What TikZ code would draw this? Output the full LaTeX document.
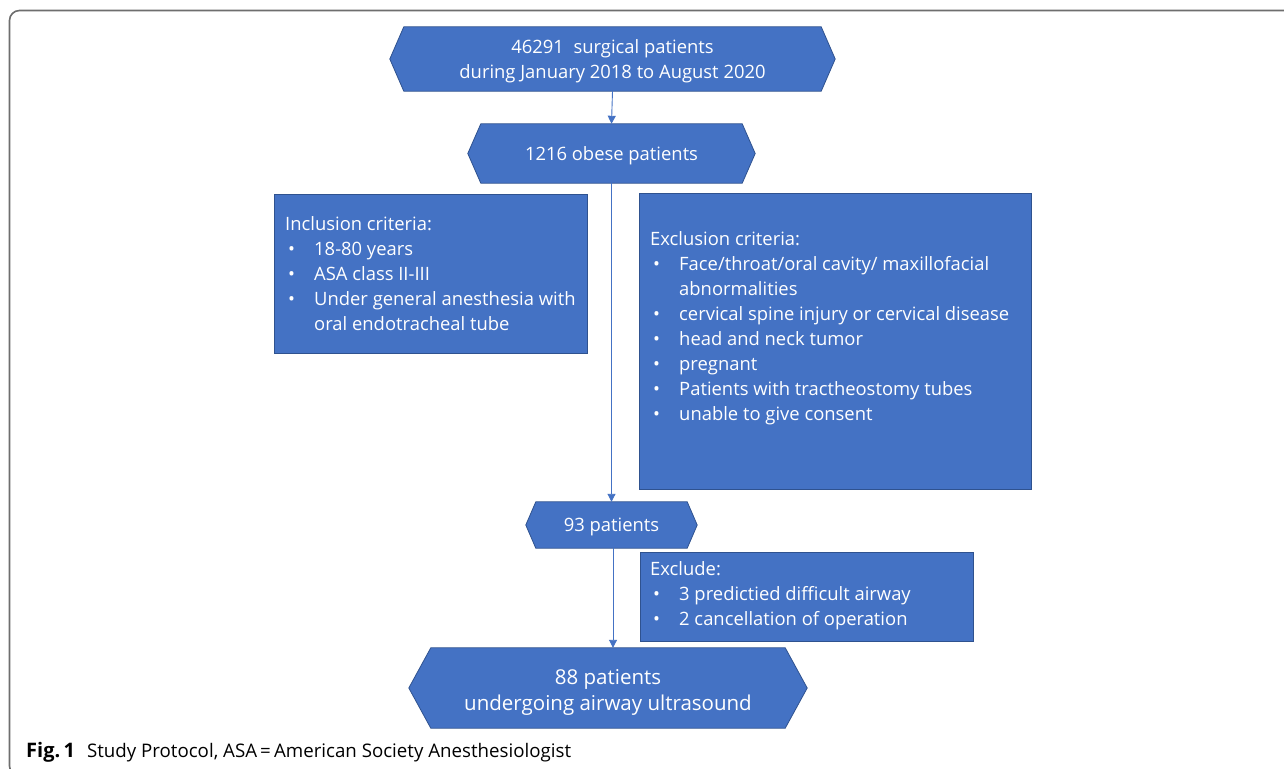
\documentclass[tikz,border=0pt]{standalone}
\usepackage{fontspec}
\setmainfont{Open Sans}
\newfontfamily\capfont{Open Sans}
\usetikzlibrary{arrows.meta,backgrounds}
\definecolor{boxblue}{HTML}{4472C4}
\definecolor{boxedge}{HTML}{2F528F}
\definecolor{framegray}{HTML}{6E6E6E}
\tikzset{
 hexnode/.style={inner sep=0pt, text=white, align=center, font=\fontsize{18.4}{25}\selectfont},
 critbox/.style={draw=boxedge, fill=boxblue, line width=0.8pt, inner sep=0pt, anchor=north west},
 crittext/.style={inner sep=0pt, anchor=north west, text=white, align=left, font=\fontsize{18.4}{25}\selectfont},
 flowarrow/.style={draw=boxblue, line width=0.9pt, -{Triangle[length=8pt,width=8pt]}},
 hexfill/.style={fill=boxblue, draw=boxedge, line width=0.8pt},
}
\newcommand{\hexpath}[2]{(#1.west) -- ([xshift=#2]#1.north west) -- ([xshift=-#2]#1.north east) -- (#1.east) -- ([xshift=-#2]#1.south east) -- ([xshift=#2]#1.south west) -- cycle}
\newcommand{\bul}{\makebox[29pt][l]{\hspace{3pt}•}}
\newcommand{\cont}{\hspace*{29pt}}
\begin{document}
\begin{tikzpicture}[x=1pt,y=-1pt]
\useasboundingbox (0,0) rectangle (1284,768);
\begin{scope}[on background layer]
\fill[white] (0,0) rectangle (1284,768);
\end{scope}
\draw[framegray, line width=1.6pt, rounded corners=10pt] (1295,10.5) -- (9.5,10.5) -- (9.5,776) -- (40,776);

% hexagon nodes (drawn shape fixed by the node; text shifted to match)
\node[hexnode, minimum width=445pt, minimum height=64pt] (n1) at (612.5,59) {};
\node[hexnode] (n1text) at (612.5,61) {46291\ \ surgical patients\\during January 2018 to August 2020};
\node[hexnode, minimum width=287pt, minimum height=59pt] (n2) at (611.5,153.5) {};
\node[hexnode] (n2text) at (611.5,155.5) {1216 obese patients};
\node[hexnode, minimum width=171pt, minimum height=46pt] (n3) at (611.5,525) {};
\node[hexnode] (n3text) at (611.5,527) {93 patients};
\node[hexnode, minimum width=398pt, minimum height=80pt] (n4) at (608,688) {};
\node[hexnode, font=\fontsize{20.5}{26}\selectfont] (n4text) at (608,692) {88 patients\\undergoing airway ultrasound};

\begin{scope}[on background layer]
\path[hexfill] \hexpath{n1}{14};
\path[hexfill] \hexpath{n2}{13};
\path[hexfill] \hexpath{n3}{10};
\path[hexfill] \hexpath{n4}{22};
\end{scope}

% criteria boxes
\node[critbox, minimum width=313pt, minimum height=159pt] (incl) at (273.5,193.5) {};
\node[crittext] (incltext) at (285,212.5) {\strut Inclusion criteria:\\
\bul 18-80 years\\
\bul ASA class II-III\\
\bul Under general anesthesia with\\
\cont oral endotracheal tube};

\node[critbox, minimum width=392pt, minimum height=296pt] (excl) at (639,193) {};
\node[crittext] (excltext) at (650,227.5) {\strut Exclusion criteria:\\
\bul Face/throat/oral cavity/ maxillofacial\\
\cont abnormalities\\
\bul cervical spine injury or cervical disease\\
\bul head and neck tumor\\
\bul pregnant\\
\bul Patients with tractheostomy tubes\\
\bul unable to give consent};

\node[critbox, minimum width=333pt, minimum height=89pt] (exc) at (639.5,552) {};
\node[crittext] (exctext) at (650,557.5) {\strut Exclude:\\
\bul 3 predictied difficult airway\\
\bul 2 cancellation of operation};

% arrows
\draw[flowarrow] (n1.south) -- (n2.north);
\draw[flowarrow] (n2.south) -- (n3.north);
\draw[flowarrow] ([xshift=1.5pt]n3.south) -- ([xshift=1.5pt]n3.south |- n4.north);

% caption
\node[anchor=base west, inner sep=0pt, font=\capfont\fontsize{18.7}{22}\selectfont] (cap) at (26,757) {{\fontsize{20}{22}\selectfont\textbf{Fig.\,1}}\hspace{12pt}Study Protocol, ASA\,=\,American Society Anesthesiologist};
\end{tikzpicture}
\end{document}
